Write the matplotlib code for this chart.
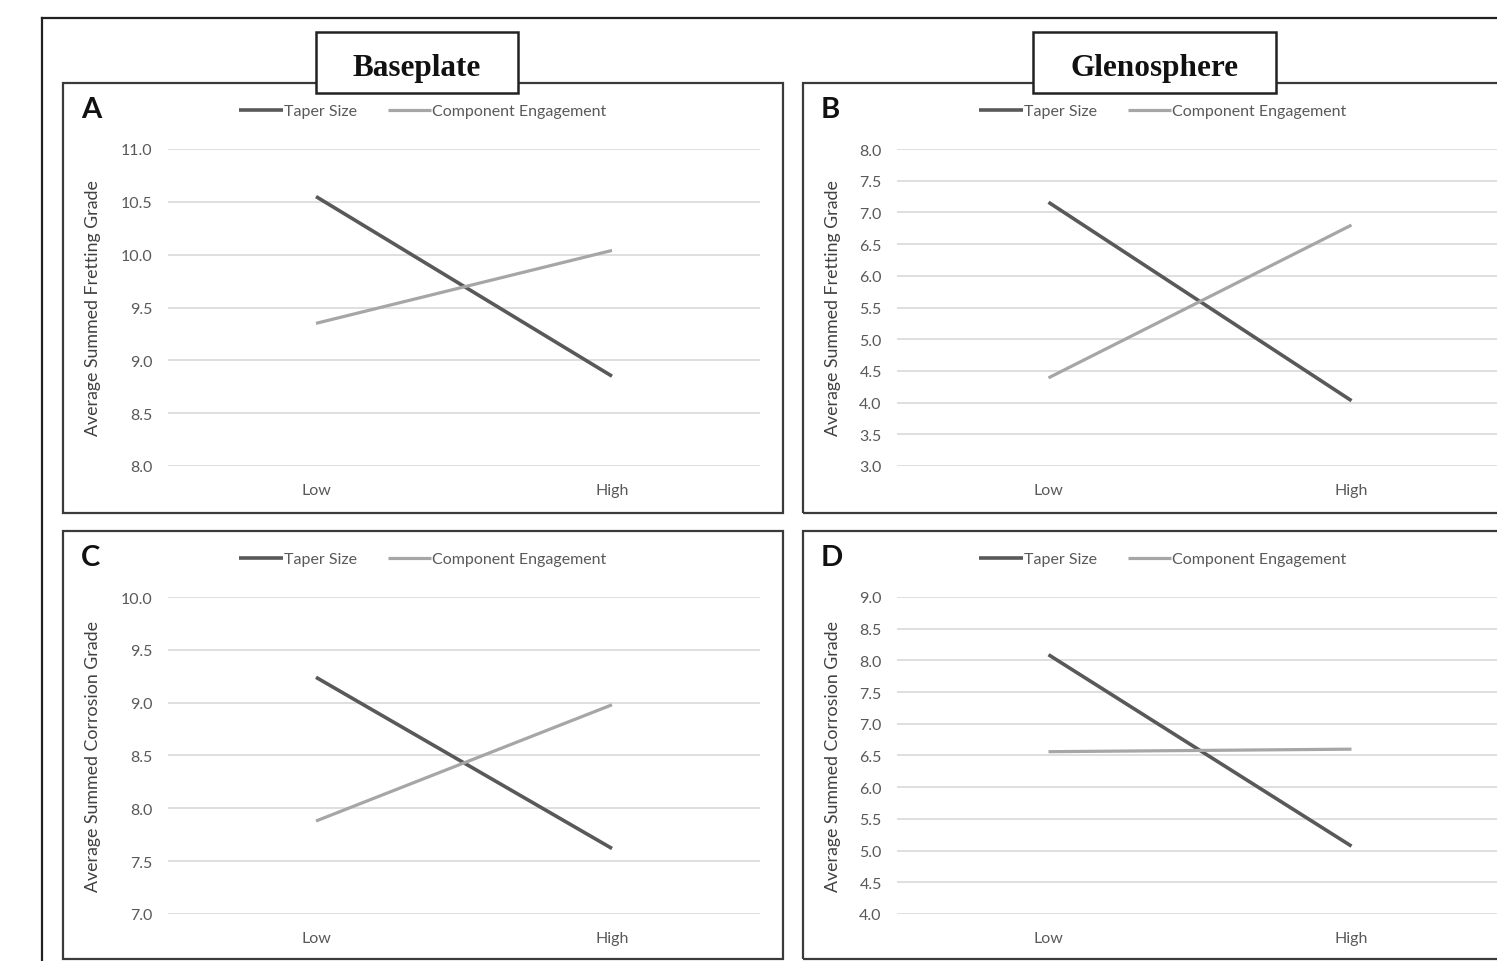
import matplotlib
matplotlib.use("Agg")
from matplotlib import pyplot as plt
from matplotlib.patches import Rectangle
from matplotlib.lines import Line2D
import numpy as np

# Data
categories = ["Low", "High"]
series_names = ["Taper Size", "Component Engagement"]

a_taper = [10.55, 8.85]
a_engage = [9.35, 10.04]
b_taper = [7.16, 4.03]
b_engage = [4.39, 6.80]
c_taper = [9.24, 7.62]
c_engage = [7.88, 8.98]
d_taper = [8.09, 5.07]
d_engage = [6.56, 6.60]

a_range = (8.0, 11.0)
b_range = (3.0, 8.0)
c_range = (7.0, 10.0)
d_range = (4.0, 9.0)

fretting_label = "Average Summed Fretting Grade"
corrosion_label = "Average Summed Corrosion Grade"

# Figure set up in pixel terms
W, H = 1497, 962
fig = plt.figure(figsize=(W / 100, H / 100), dpi=100)
fig.patch.set_facecolor("white")

TAPER_COLOR = "#595959"
ENGAGE_COLOR = "#a6a6a6"
GRID_COLOR = "#d9d9d9"
TEXT_COLOR = "#595959"
SANS = ["Lato", "DejaVu Sans"]


def fx(x):
    return x / W


def fy(y):
    return 1 - y / H


def box(x0, y0, x1, y1, lw=1.6, color="#3a3a3a", fc="none", zorder=1):
    r = Rectangle((fx(x0), fy(y1)), fx(x1) - fx(x0), fy(y0) - fy(y1),
                  transform=fig.transFigure, facecolor=fc, edgecolor=color,
                  linewidth=lw, zorder=zorder)
    fig.add_artist(r)


def draw_panel(letter, panel, plot, ylabel_x, ylim, taper, engage, ylabel):
    px0, py0, px1, py1 = panel
    box(px0, py0, px1, py1)

    x0, y0, x1, y1 = plot
    ax = fig.add_axes([fx(x0), fy(y1), fx(x1) - fx(x0), fy(y0) - fy(y1)])
    ax.set_facecolor("none")
    x = np.arange(len(categories))
    ax.plot(x, taper, color=TAPER_COLOR, lw=2.6, solid_capstyle="butt",
            label=series_names[0], zorder=3)
    ax.plot(x, engage, color=ENGAGE_COLOR, lw=2.3, solid_capstyle="butt",
            label=series_names[1], zorder=3)
    ax.set_xlim(-0.5, len(categories) - 0.5)
    ax.set_ylim(*ylim)
    ticks = np.arange(ylim[0], ylim[1] + 0.01, 0.5)
    ax.set_yticks(ticks)
    ax.set_yticklabels([f"{t:.1f}" for t in ticks])
    ax.set_xticks(x)
    ax.set_xticklabels(categories)
    ax.grid(axis="y", color=GRID_COLOR, lw=1.2, zorder=0)
    for s in ax.spines.values():
        s.set_visible(False)
    ax.tick_params(axis="both", length=0, labelsize=11.5, labelcolor=TEXT_COLOR)
    ax.tick_params(axis="y", pad=11)
    ax.tick_params(axis="x", pad=12)
    for lab in ax.get_xticklabels() + ax.get_yticklabels():
        lab.set_family(SANS)

    leg = ax.legend(loc="center", bbox_to_anchor=(fx((px0 + px1) / 2), fy(py0 + 28)),
                    bbox_transform=fig.transFigure, ncol=2, frameon=False,
                    handlelength=2.7, handletextpad=0.1, columnspacing=1.9,
                    prop={"family": SANS, "size": 11.5})
    for t in leg.get_texts():
        t.set_color(TEXT_COLOR)

    fig.text(fx(px0 + 18), fy(py0 + 26), letter, fontsize=21, fontweight="bold",
             family=SANS, ha="left", va="center", color="#111111")
    fig.text(fx(ylabel_x), fy((y0 + y1) / 2), ylabel, rotation=90, fontsize=12.8,
             family=SANS, ha="center", va="center", color="#404040")
    return ax


# outer frame (cut off on the right and bottom)
fig.add_artist(Line2D([fx(42), fx(42)], [fy(19), fy(H + 5)], transform=fig.transFigure,
                      color="#222222", lw=1.6))
fig.add_artist(Line2D([fx(42), fx(W + 5)], [fy(19), fy(19)], transform=fig.transFigure,
                      color="#222222", lw=1.6))

draw_panel("A", (63, 84, 783, 514), (168, 150, 760, 467), 93, a_range,
           a_taper, a_engage, fretting_label)
draw_panel("B", (803, 84, 1523, 514), (897, 150, 1503, 467), 833, b_range,
           b_taper, b_engage, fretting_label)
draw_panel("C", (63, 532, 783, 960), (168, 598, 760, 915), 93, c_range,
           c_taper, c_engage, corrosion_label)
draw_panel("D", (803, 532, 1523, 960), (897, 598, 1503, 915), 833, d_range,
           d_taper, d_engage, corrosion_label)

# header boxes
for name, (bx0, bx1) in [("Baseplate", (316, 518)), ("Glenosphere", (1033, 1276))]:
    box(bx0, 33, bx1, 94, lw=1.8, color="#222222", fc="white", zorder=5)
    fig.text(fx((bx0 + bx1) / 2), fy(65), name, fontsize=22.5, fontweight="bold",
             family=["Liberation Serif", "DejaVu Serif"], ha="center", va="center_baseline",
             color="#111111", zorder=6)

fig.savefig("out.png", dpi=100)
